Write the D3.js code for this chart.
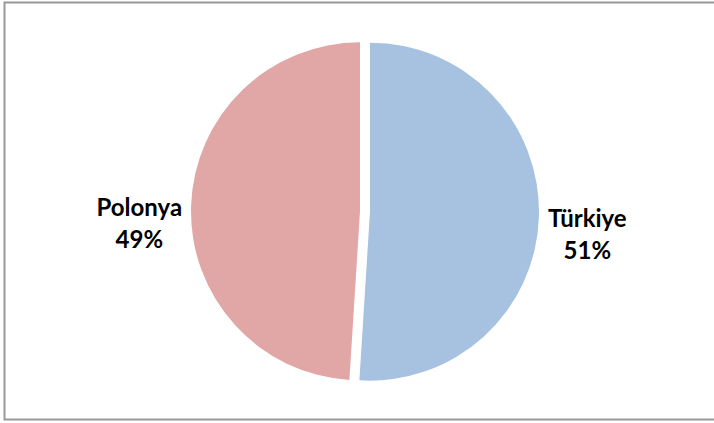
<!DOCTYPE html>
<html>
<head>
<meta charset="utf-8">
<script src="https://cdn.jsdelivr.net/npm/d3@7"></script>
<style>
  body { margin: 0; background: #fff; }
  svg { display: block; }
</style>
</head>
<body>
<svg width="714" height="423"></svg>
<script>
var categories = ["Türkiye", "Polonya"];
var values = [51, 49];
var colors = ["#a7c1e0", "#e1a7a6"];

var svg = d3.select("svg"),
    cx = 365, cy = 211.5,
    radius = 169,
    explode = 5,
    labelGap = 9;

// chart frame
svg.append("rect")
    .attr("x", 4.5).attr("y", 2.5)
    .attr("width", 712).attr("height", 417)
    .attr("fill", "none")
    .attr("stroke", "#999")
    .attr("stroke-width", 2);

var total = d3.sum(values);
var data = categories.map(function(c, i) { return {name: c, value: values[i]}; });

var pie = d3.pie().sort(null).value(function(d) { return d.value; });
var arc = d3.arc().innerRadius(0).outerRadius(radius);
var labelArc = d3.arc()
    .innerRadius(radius + explode + labelGap)
    .outerRadius(radius + explode + labelGap);

var g = svg.append("g").attr("transform", "translate(" + cx + "," + cy + ")");

var slices = g.selectAll(".slice")
    .data(pie(data))
    .enter().append("g")
        .attr("class", "slice")
        .attr("transform", function(d) {
            var a = (d.startAngle + d.endAngle) / 2;
            return "translate(" + (explode * Math.sin(a)) + "," + (-explode * Math.cos(a)) + ")";
        });

slices.append("path")
    .attr("d", arc)
    .attr("fill", function(d, i) { return colors[i]; });

var labels = g.selectAll(".label")
    .data(pie(data))
    .enter().append("text")
        .attr("class", "label")
        .attr("text-anchor", "middle")
        .style("font", "bold 24px Lato, sans-serif")
        .attr("fill", "#000");

labels.append("tspan")
    .attr("x", 0).attr("dy", 0)
    .text(function(d) { return d.data.name; });

labels.append("tspan")
    .attr("x", 0).attr("dy", 32)
    .text(function(d) { return Math.round(d.data.value / total * 100) + "%"; });

// push each label box outward so its inner edge sits just past the pie
labels.attr("transform", function(d) {
    var c = labelArc.centroid(d);
    var w = this.getBBox().width;
    var side = c[0] < 0 ? -1 : 1;
    return "translate(" + (c[0] + side * w / 2) + "," + (c[1] + 10) + ")";
});
</script>
</body>
</html>
